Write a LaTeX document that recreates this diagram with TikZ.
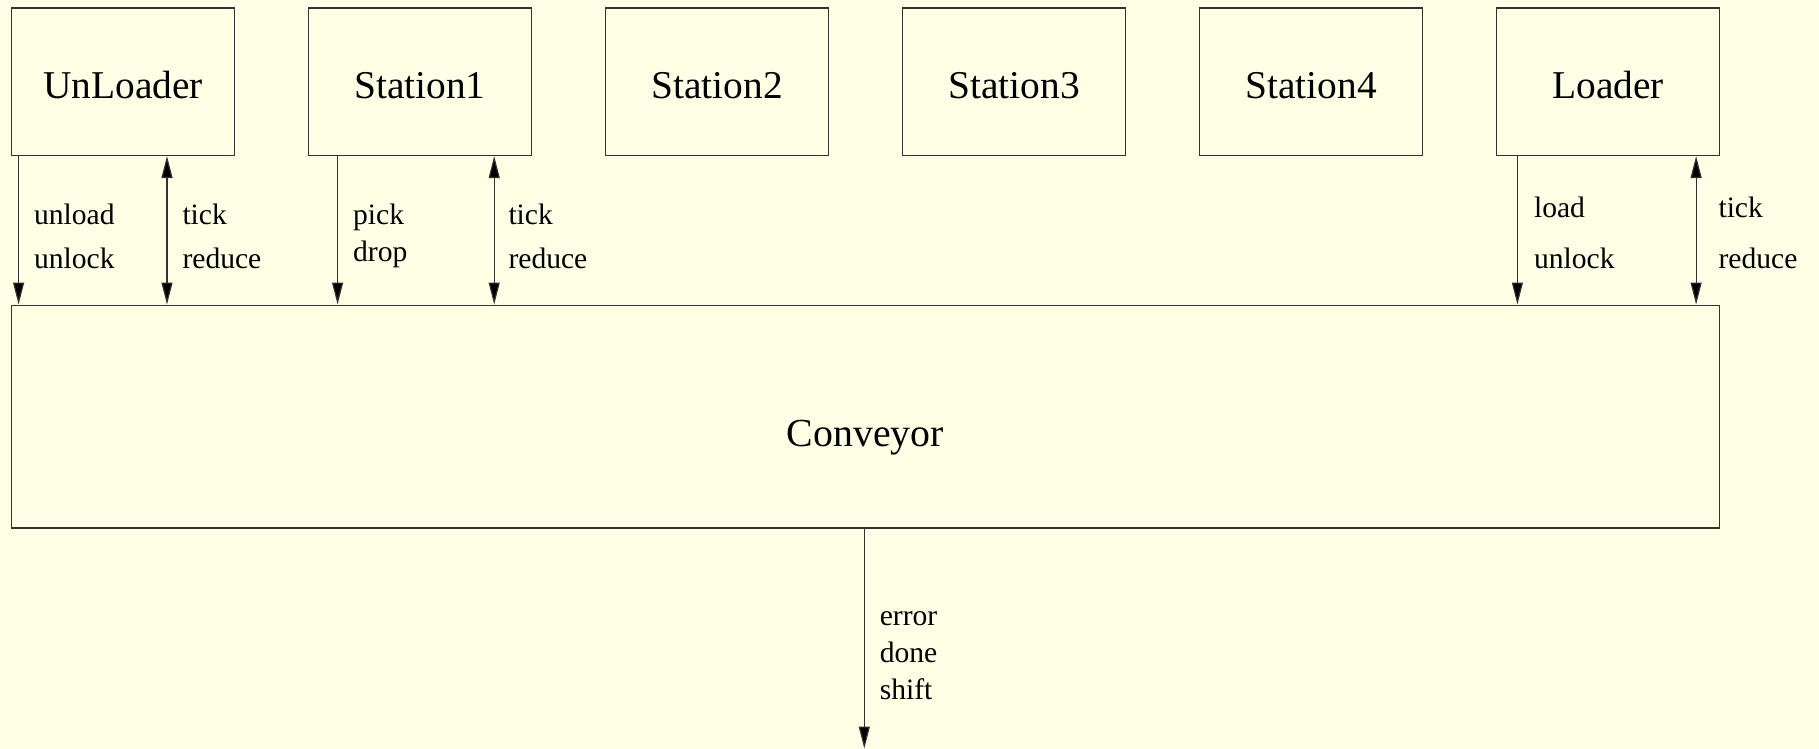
\documentclass[tikz,border=0pt]{standalone}
\usepackage{fontspec}
\setmainfont{Liberation Serif}
\usetikzlibrary{arrows.meta}
\definecolor{bgcol}{RGB}{255,255,229}
\definecolor{linecol}{RGB}{50,50,50}
\begin{document}
\begin{tikzpicture}[x=0.5pt,y=-0.5pt,
  boxstyle/.style={draw=linecol,line width=0.6pt,rectangle,inner sep=0pt,
     minimum width=111.35pt,minimum height=73.7pt,text height=16.2pt,text depth=0pt,
     font=\fontsize{19.7}{22}\selectfont},
  convstyle/.style={draw=linecol,line width=0.6pt,rectangle,inner sep=0pt,
     minimum width=853.85pt,minimum height=111.4pt,text height=34.3pt,text depth=4.3pt,
     font=\fontsize{19.9}{22}\selectfont},
  lbl/.style={anchor=base west,inner sep=0pt,font=\fontsize{14.8}{17}\selectfont},
  arr/.style={draw=linecol,line width=0.6pt,-{Triangle[length=11pt,width=5.5pt,fill=black]}},
  darr/.style={draw=linecol,line width=0.6pt,{Triangle[length=11pt,width=5.5pt,fill=black]}-{Triangle[length=11pt,width=5.5pt,fill=black]}}
]
\fill[bgcol] (0,0) rectangle (1819,749);
\useasboundingbox (0,0) rectangle (1819,749);

\node[boxstyle] (unl) at (123,81.8) {UnLoader};
\node[boxstyle] (st1) at (420,81.8) {Station1};
\node[boxstyle] (st2) at (717,81.8) {Station2};
\node[boxstyle] (st3) at (1014,81.8) {Station3};
\node[boxstyle] (st4) at (1311,81.8) {Station4};
\node[boxstyle] (ldr) at (1608,81.8) {Loader};
\node[convstyle] (conv) at (865.45,416.5) {Conveyor};

% UnLoader
\draw[arr] (unl.south -| 18.6,0) -- (conv.north -| 18.6,0);
\draw[darr] (unl.south -| 167,0) -- (conv.north -| 167,0);
\node[lbl] (l1) at (33.6,224.6) {unload};
\node[lbl] (l2) at (33.6,268.7) {unlock};
\node[lbl] (l3) at (182.1,224.6) {tick};
\node[lbl] (l4) at (182.1,268.7) {reduce};

% Station1
\draw[arr] (st1.south -| 337.6,0) -- (conv.north -| 337.6,0);
\draw[darr] (st1.south -| 494.2,0) -- (conv.north -| 494.2,0);
\node[lbl] (l5) at (352.7,224.6) {pick};
\node[lbl] (l6) at (352.7,261.7) {drop};
\node[lbl] (l7) at (508.1,224.6) {tick};
\node[lbl] (l8) at (508.1,268.7) {reduce};

% Loader
\draw[arr] (ldr.south -| 1517.4,0) -- (conv.north -| 1517.4,0);
\draw[darr] (ldr.south -| 1696.1,0) -- (conv.north -| 1696.1,0);
\node[lbl] (l9) at (1533.6,217.7) {load};
\node[lbl] (l10) at (1533.6,268.7) {unlock};
\node[lbl] (l11) at (1718.1,217.7) {tick};
\node[lbl] (l12) at (1718.1,268.7) {reduce};

% Output
\coordinate (outend) at (864.3,748.5);
\draw[arr] (conv.south -| outend) -- (outend);
\node[lbl] (l13) at (879.4,625) {error};
\node[lbl] (l14) at (879.4,662) {done};
\node[lbl] (l15) at (879.4,699) {shift};
\end{tikzpicture}
\end{document}
